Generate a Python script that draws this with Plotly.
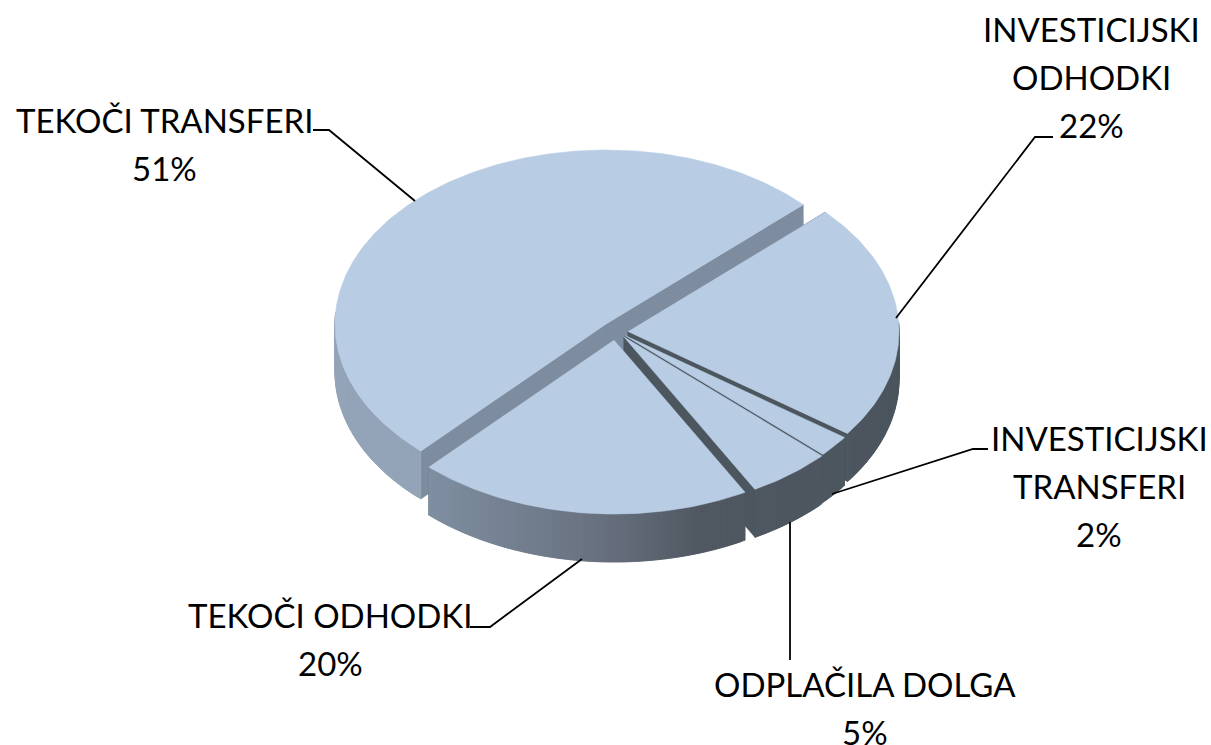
import math
import plotly.graph_objects as go

# ---- data (clockwise from the start angle) ----
categories = ["INVESTICIJSKI ODHODKI", "INVESTICIJSKI TRANSFERI", "ODPLAČILA DOLGA", "TEKOČI ODHODKI", "TEKOČI TRANSFERI"]
shares = [22, 2, 5, 20, 51]
label_lines = [["INVESTICIJSKI", "ODHODKI"], ["INVESTICIJSKI", "TRANSFERI"], ["ODPLAČILA DOLGA"], ["TEKOČI ODHODKI"], ["TEKOČI TRANSFERI"]]

# ---- layout of the exploded, tilted disc, in axis units ----
label_anchor = [(1091, 29), (1099, 438), (865, 684), (330, 615), (164, 120)]
slice_tips = [(628, 331.5), (625, 335.5), (624, 337), (614, 340), (606, 324)]
draw_order = [4, 0, 1, 2, 3]
RX, RY = 271, 174
H = 48
START = 43.3
LINE_H = 48

TOP = "rgb(184,204,228)"
T_WALL = (148, 164, 184)
T_CUT = (125, 140, 158)
DARK = (76, 86, 94)
stops = [(420, (128, 144, 163)), (600, (104, 113, 127)), (700, (80, 88, 98)), (900, DARK)]


def css(c):
    return "rgb(%d,%d,%d)" % tuple(round(v) for v in c)


def shade(x):
    if x <= stops[0][0]:
        return stops[0][1]
    if x >= stops[-1][0]:
        return stops[-1][1]
    for (a, ca), (b, cb) in zip(stops, stops[1:]):
        if a <= x <= b:
            t = (x - a) / (b - a)
            return tuple(ca[i] + (cb[i] - ca[i]) * t for i in range(3))


def poly(fig, xs, ys, color, width=0.6):
    fig.add_trace(go.Scatter(x=xs + xs[:1], y=ys + ys[:1], mode="lines", fill="toself", fillcolor=color,
                             line=dict(color=color, width=width), hoverinfo="skip", showlegend=False))


# angular extent of every slice from its share
spans = []
ang = START
for share in shares:
    spans.append((ang, ang - share * 3.6))
    ang -= share * 3.6

fig = go.Figure()
for idx in draw_order:
    a0, a1 = spans[idx]
    tx, ty = slice_tips[idx]
    is_big = idx == 4
    n = max(6, int(abs(a1 - a0) * 1.2))
    arc = [math.radians(a0 + (a1 - a0) * i / n) for i in range(n + 1)]
    rx = [tx + RX * math.cos(a) for a in arc]
    ry = [ty - RY * math.sin(a) for a in arc]
    # cut faces
    cut = T_CUT if is_big else DARK
    for px, py in ((rx[0], ry[0]), (rx[-1], ry[-1])):
        poly(fig, [tx, px, px, tx], [ty, py, py + H, ty + H], css(cut))
    # outer wall, painted with overlap so no seams show
    vis = [i for i in range(n) if math.sin(arc[i]) < 0.05 or math.sin(arc[i + 1]) < 0.05]
    for i in vis:
        j = min(i + 2, n)
        xs = rx[i:j + 1]
        ys = ry[i:j + 1]
        col = T_WALL if is_big else shade((rx[i] + rx[i + 1]) / 2)
        poly(fig, xs + xs[::-1], ys + [v + H for v in ys[::-1]], css(col))
    # top
    poly(fig, [tx] + rx, [ty] + ry, TOP)

# leader lines
lead_x = [[1053, 1035, 896], [988, 973, 832], [790, 790], [470, 490, 582], [313, 329, 415]]
lead_y = [[137, 137, 318], [449, 449, 494], [522, 660], [627, 627, 559], [130, 130, 201]]
for lx, ly in zip(lead_x, lead_y):
    fig.add_trace(go.Scatter(x=lx, y=ly, mode="lines", line=dict(color="black", width=1.8), hoverinfo="skip", showlegend=False))

# labels
for lines, share, (ax, ay) in zip(label_lines, shares, label_anchor):
    for i, t in enumerate(lines + [f"{share}%"]):
        fig.add_annotation(x=ax, y=ay + i * LINE_H, text=t, showarrow=False, xanchor="center", yanchor="middle",
                           font=dict(family="Lato", size=33, color="black"))

fig.update_layout(width=1211, height=745, margin=dict(l=0, r=0, t=0, b=0), paper_bgcolor="white", plot_bgcolor="white",
                  showlegend=False,
                  xaxis=dict(range=[0, 1211], visible=False, fixedrange=True),
                  yaxis=dict(range=[745, 0], visible=False, fixedrange=True))
fig.write_html("out.html", config=dict(displayModeBar=False),
               post_script="document.body.style.margin='0';document.documentElement.style.overflow='hidden';")
